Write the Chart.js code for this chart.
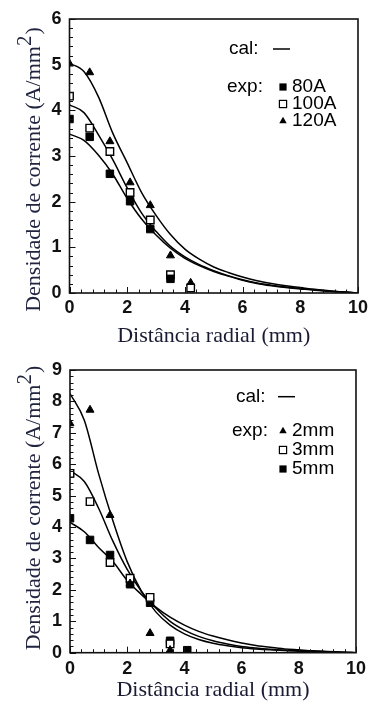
<!DOCTYPE html>
<html><head><meta charset="utf-8">
<script src="https://cdn.jsdelivr.net/npm/chart.js@4.4.1/dist/chart.umd.min.js"></script>
<style>
html,body{margin:0;padding:0;background:#fff;width:372px;height:703px;overflow:hidden}
.wrap{position:absolute;left:0;width:372px}
canvas{display:block}
</style></head><body>
<div class="wrap" style="top:0;height:350px"><canvas id="c1" width="372" height="350"></canvas></div>
<div class="wrap" style="top:350px;height:353px"><canvas id="c2" width="372" height="353"></canvas></div>
<script>
// ---------- DATA ----------
const curveX  = [0,0.5,1,1.5,2,2.5,3,3.5,4,4.5,5,5.5,6,6.5,7,7.5,8,8.5,9,9.5,10];
const pointX1 = [0,0.7,1.4,2.1,2.8,3.5,4.2];
const pointX2 = [0,0.7,1.4,2.1,2.8,3.5,4.1];
const xTicks  = [0,2,4,6,8,10];
const yTicks1 = [0,1,2,3,4,5,6];
const yTicks2 = [0,1,2,3,4,5,6,7,8,9];

// Chart 1 (current)
const names1 = ['80A','100A','120A'];
const cal80  = [3.48,3.34,3.02,2.60,2.07,1.62,1.27,0.98,0.76,0.60,0.47,0.37,0.28,0.21,0.16,0.12,0.09,0.06,0.04,0.02,0];
const cal100 = [4.12,3.95,3.47,2.92,2.30,1.75,1.35,1.02,0.79,0.62,0.49,0.38,0.29,0.22,0.17,0.13,0.10,0.07,0.04,0.02,0];
const cal120 = [5.03,4.85,4.30,3.50,2.85,2.20,1.70,1.28,0.96,0.74,0.57,0.45,0.35,0.27,0.21,0.16,0.12,0.08,0.05,0.02,0];
const exp80  = [3.81,3.42,2.61,2.01,1.40,0.31,null];
const exp100 = [4.31,3.61,3.10,2.20,1.60,0.40,0.11];
const exp120 = [5.02,4.83,3.32,2.42,1.92,0.82,0.22];

// Chart 2 (arc length)
const names2 = ['2mm','3mm','5mm'];
const cal2mm = [8.25,7.40,5.70,4.20,2.90,1.95,1.30,0.88,0.60,0.42,0.30,0.22,0.16,0.12,0.09,0.07,0.05,0.04,0.03,0.01,0];
const cal3mm = [5.80,5.45,4.60,3.55,2.65,1.95,1.42,1.00,0.72,0.52,0.38,0.28,0.20,0.15,0.11,0.08,0.06,0.04,0.03,0.01,0];
const cal5mm = [4.15,3.85,3.35,2.90,2.30,1.85,1.45,1.13,0.88,0.68,0.53,0.41,0.31,0.23,0.17,0.12,0.09,0.06,0.04,0.02,0];
const exp2mm = [7.30,7.73,4.38,2.20,0.62,0.08,null];
const exp3mm = [5.71,4.81,2.87,2.37,1.76,0.28,null];
const exp5mm = [4.28,3.59,3.11,2.18,1.59,0.38,0.08];

// ---------- helpers ----------
const pts = (xs, ys) => xs.map((x,i)=>({x, y: ys[i]})).filter(p=>p.y!==null);
const markerStyles = {
  filled: {pointStyle:'rect', backgroundColor:'#000', borderColor:'#000', borderWidth:1, pointRadius:5.3},
  open:   {pointStyle:'rect', backgroundColor:'#fff', borderColor:'#000', borderWidth:1.4, pointRadius:5.3},
  tri:    {pointStyle:'triangle', backgroundColor:'#000', borderColor:'#000', borderWidth:1, pointRadius:4.6}
};
function expDs(label, xs, ys, st){
  const m = markerStyles[st];
  return {type:'scatter', label, data: pts(xs,ys), showLine:false,
    pointStyle:m.pointStyle, backgroundColor:m.backgroundColor, borderColor:m.borderColor,
    borderWidth:m.borderWidth, pointRadius:m.pointRadius, pointHoverRadius:m.pointRadius, _st:st};
}
function calDs(ys){
  return {type:'line', label:'cal', data: pts(curveX, ys), borderColor:'#000', borderWidth:1.5,
    pointRadius:0, fill:false, cubicInterpolationMode:'monotone', _cal:true};
}
function drawMarker(ctx, st, x, y, r){
  ctx.save();
  ctx.fillStyle='#000'; ctx.strokeStyle='#000';
  if (st==='tri'){
    const h = r*1.5, w = r*1.732;
    ctx.beginPath(); ctx.moveTo(x, y-h*0.66); ctx.lineTo(x+w/2, y+h*0.34); ctx.lineTo(x-w/2, y+h*0.34); ctx.closePath(); ctx.fill();
  } else if (st==='filled'){
    ctx.fillRect(x-r, y-r, 2*r, 2*r);
  } else {
    ctx.fillStyle='#fff'; ctx.lineWidth=1.2;
    ctx.fillRect(x-r, y-r, 2*r, 2*r); ctx.strokeRect(x-r, y-r, 2*r, 2*r);
  }
  ctx.restore();
}

const framePlugin = {
  id:'frame',
  afterDatasetsDraw(chart, args, o){
    const {ctx, chartArea:a, scales:{x,y}} = chart;
    ctx.save();
    ctx.strokeStyle='#111';
    ctx.lineWidth=1;
    ctx.beginPath();
    for (let v=x.min; v<=x.max+1e-9; v+=o.xMinor){
      const px = Math.round(x.getPixelForValue(v))+0.5;
      const major = Math.abs(v/o.xMajor - Math.round(v/o.xMajor))<1e-6;
      ctx.moveTo(px, a.bottom); ctx.lineTo(px, a.bottom-(major?6:3.5));
    }
    for (let v=y.min; v<=y.max+1e-9; v+=o.yMinor){
      const py = Math.round(y.getPixelForValue(v))+0.5;
      const major = Math.abs(v - Math.round(v))<1e-6;
      ctx.moveTo(a.left, py); ctx.lineTo(a.left+(major?6:3.5), py);
    }
    ctx.stroke();
    ctx.lineWidth=1.6;
    ctx.strokeRect(a.left, a.top, a.right-a.left, a.bottom-a.top);
    ctx.restore();
  }
};

const yTitlePlugin = {
  id:'ytitle',
  afterDraw(chart, args, o){
    const ctx = chart.ctx;
    ctx.save();
    ctx.translate(o.baseX, o.centerY);
    ctx.rotate(-Math.PI/2);
    ctx.fillStyle = o.color;
    ctx.textBaseline='alphabetic';
    const f1 = '22px "Liberation Serif", "Times New Roman", serif';
    const f2 = '21px "Liberation Serif", "Times New Roman", serif';
    ctx.font=f1; const w1 = ctx.measureText(o.main).width; const w3 = ctx.measureText(o.tail).width;
    ctx.font=f2; const w2 = ctx.measureText(o.sup).width;
    let sx = -(w1+w2+w3)/2;
    ctx.font=f1; ctx.fillText(o.main, sx, 0); sx+=w1;
    ctx.font=f2; ctx.fillText(o.sup, sx, -9); sx+=w2;
    ctx.font=f1; ctx.fillText(o.tail, sx+1, 0);
    ctx.restore();
  }
};

const legendPlugin = {
  id:'customLegend',
  afterDraw(chart, args, o){
    const ctx = chart.ctx;
    ctx.save();
    ctx.fillStyle='#000';
    ctx.font='19px "Liberation Sans", Arial, sans-serif';
    ctx.textBaseline='middle';
    ctx.fillText('cal:', o.calX, o.calY);
    ctx.lineWidth=1.5; ctx.strokeStyle='#000';
    ctx.beginPath(); ctx.moveTo(o.dash[0], o.calY); ctx.lineTo(o.dash[1], o.calY); ctx.stroke();
    ctx.fillText('exp:', o.expX, o.rows[0]);
    const expSets = chart.data.datasets.filter(d=>!d._cal);
    expSets.forEach((d,i)=>{
      drawMarker(ctx, d._st, o.markX, o.rows[i], d._st==='tri'?4.3:3.6);
      ctx.fillStyle='#000';
      ctx.fillText(d.label, o.textX, o.rows[i]);
    });
    ctx.restore();
  }
};

function makeChart(id, cfg){
  return new Chart(document.getElementById(id), {
    data:{datasets: cfg.datasets},
    options:{
      responsive:false, animation:false, devicePixelRatio:1,
      layout:{padding:cfg.padding},
      plugins:{legend:{display:false}, tooltip:{enabled:false},
        frame:{xMinor:0.4, xMajor:2, yMinor:0.2},
        ytitle:cfg.ytitle, customLegend:cfg.legend},
      scales:{
        x:{type:'linear', min:0, max:10,
          afterBuildTicks: s => { s.ticks = xTicks.map(v=>({value:v})); },
          afterFit: s => { s.height = cfg.xHeight; },
          grid:{display:false, drawTicks:false}, border:{display:false},
          ticks:{color:'#111', font:{family:'"Liberation Sans", Arial, sans-serif', size:18, weight:'bold'}, padding:cfg.xTickPad, maxRotation:0, autoSkip:false},
          title:{display:true, text:'Distância radial (mm)', color:'#1a1a33',
            font:{family:'"Liberation Serif", "Times New Roman", serif', size:22, lineHeight:1}, padding:{top:0, bottom:cfg.xTitlePad}}},
        y:{type:'linear', min:0, max:cfg.yMax,
          afterBuildTicks: s => { s.ticks = cfg.yTicks.map(v=>({value:v})); },
          afterFit: s => { s.width = cfg.yWidth; },
          grid:{display:false, drawTicks:false}, border:{display:false},
          ticks:{color:'#111', font:{family:'"Liberation Sans", Arial, sans-serif', size:18, weight:'bold'}, padding:8, autoSkip:false}}
      }
    },
    plugins:[framePlugin, yTitlePlugin, legendPlugin]
  });
}

makeChart('c1', {
  datasets:[
    expDs(names1[0], pointX1, exp80, 'filled'),
    expDs(names1[1], pointX1, exp100, 'open'),
    expDs(names1[2], pointX1, exp120, 'tri'),
    calDs(cal80), calDs(cal100), calDs(cal120)
  ],
  padding:{top:19, right:9, left:0, bottom:0},
  xHeight:57, yWidth:69.5, yMax:6, yTicks:yTicks1, xTickPad:4, xTitlePad:3,
  ytitle:{baseX:40, centerY:170, color:'#20243f', main:'Densidade de corrente (A/mm', sup:'2', tail:')'},
  legend:{calX:229, calY:49, dash:[273,290], expX:227, markX:283, textX:292, rows:[87,104,121]}
});

makeChart('c2', {
  datasets:[
    expDs(names2[0], pointX2, exp2mm, 'tri'),
    expDs(names2[1], pointX2, exp3mm, 'open'),
    expDs(names2[2], pointX2, exp5mm, 'filled'),
    calDs(cal2mm), calDs(cal3mm), calDs(cal5mm)
  ],
  padding:{top:20, right:12.5, left:0, bottom:0},
  xHeight:50.3, yWidth:70, yMax:9, yTicks:yTicks2, xTickPad:6, xTitlePad:1.5,
  ytitle:{baseX:40, centerY:158.5, color:'#20243f', main:'Densidade de corrente (A/mm', sup:'2', tail:')'},
  legend:{calX:236, calY:46.7, dash:[278,295], expX:232, markX:283, textX:292, rows:[81,100,119]}
});
</script>
</body></html>
